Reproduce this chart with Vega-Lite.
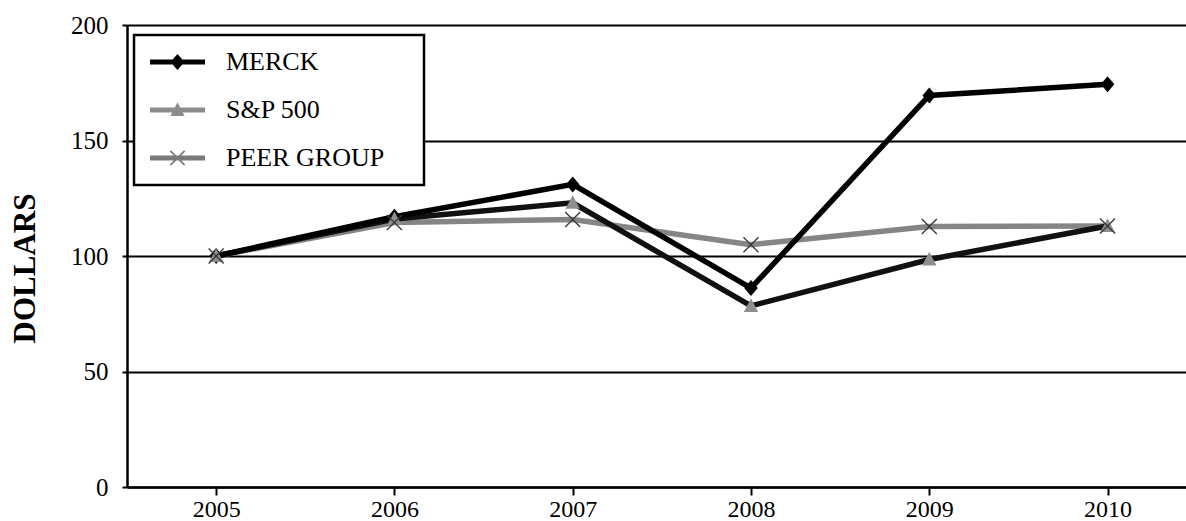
{
  "$schema": "https://vega.github.io/schema/vega-lite/v6.json",
  "width": 1059,
  "height": 462,
  "autosize": {"type": "none"},
  "padding": {"left": 127, "top": 25, "right": 0, "bottom": 34},
  "background": "white",
  "config": {
    "view": {"stroke": null},
    "font": "Liberation Serif",
    "axis": {"labelFont": "Liberation Serif", "labelColor": "black", "domainColor": "black", "tickColor": "black"}
  },
  "data": {
    "values": [
      {"year": 2005, "series": "PEER GROUP", "value": 100},
      {"year": 2006, "series": "PEER GROUP", "value": 114.5},
      {"year": 2007, "series": "PEER GROUP", "value": 115.8},
      {"year": 2008, "series": "PEER GROUP", "value": 104.9},
      {"year": 2009, "series": "PEER GROUP", "value": 112.8},
      {"year": 2010, "series": "PEER GROUP", "value": 113},
      {"year": 2005, "series": "S&P 500", "value": 100},
      {"year": 2006, "series": "S&P 500", "value": 116},
      {"year": 2007, "series": "S&P 500", "value": 123},
      {"year": 2008, "series": "S&P 500", "value": 78.4},
      {"year": 2009, "series": "S&P 500", "value": 98.5},
      {"year": 2010, "series": "S&P 500", "value": 113},
      {"year": 2005, "series": "MERCK", "value": 100},
      {"year": 2006, "series": "MERCK", "value": 117},
      {"year": 2007, "series": "MERCK", "value": 131},
      {"year": 2008, "series": "MERCK", "value": 86.1},
      {"year": 2009, "series": "MERCK", "value": 169.5},
      {"year": 2010, "series": "MERCK", "value": 174.3}
    ]
  },
  "encoding": {
    "x": {
      "field": "year", "type": "quantitative",
      "scale": {"domain": [2004.5, 2010.44], "nice": false, "zero": false},
      "axis": {"values": [2005, 2006, 2007, 2008, 2009, 2010], "format": "d", "title": null, "grid": false, "tickSize": 8, "tickWidth": 2, "domainWidth": 2.5, "labelFontSize": 24, "labelBaseline": "alphabetic", "labelPadding": 21, "labelFlush": false}
    },
    "y": {
      "field": "value", "type": "quantitative",
      "scale": {"domain": [0, 200], "nice": false},
      "axis": {"values": [0, 50, 100, 150, 200], "title": "DOLLARS", "titleFont": "Liberation Serif", "titleFontSize": 31, "titleFontWeight": "bold", "titleColor": "black", "titlePadding": 29, "titleY": 243, "grid": true, "gridColor": "black", "gridWidth": 2, "gridOpacity": 1, "tickSize": 5, "tickWidth": 2, "domainWidth": 2.5, "labelFontSize": 25, "labelPadding": 14}
    }
  },
  "layer": [
    {
      "mark": {"type": "line", "strokeWidth": 5.5, "strokeJoin": "miter"},
      "encoding": {
        "color": {
          "field": "series", "type": "nominal",
          "scale": {"domain": ["MERCK", "S&P 500", "PEER GROUP"], "range": ["#000000", "#111111", "#858585"]},
          "legend": {
            "title": null,
            "orient": "none",
            "legendX": 7,
            "legendY": 10,
            "padding": 14,
            "strokeColor": "black",
            "fillColor": "white",
            "labelFont": "Liberation Serif",
            "labelFontSize": 26,
            "labelColor": "black",
            "labelOffset": 52,
            "labelLimit": 400,
            "labelExpr": "datum.label + '\u00a0\u2800'",
            "symbolSize": 484,
            "rowPadding": 22,
            "encode": {
              "legend": {"update": {"strokeWidth": {"value": 2.5}}},
              "symbols": {
                "update": {
                  "shape": {"signal": "datum.value === 'MERCK' ? 'M-1,-0.23H4V0.23H-1Z M1.5,-0.73L2.14,0L1.5,0.73L0.86,0Z' : datum.value === 'S&P 500' ? 'M-1,-0.23H4V0.23H-1Z M1.5,-0.7L2.14,0.55L0.86,0.55Z' : 'M-1,-0.23H4V0.23H-1Z M0.8,-0.595L0.905,-0.7L1.5,-0.105L2.095,-0.7L2.2,-0.595L1.605,0L2.2,0.595L2.095,0.7L1.5,0.105L0.905,0.7L0.8,0.595L1.395,0Z'"},
                  "fill": {"signal": "datum.value === 'MERCK' ? '#000000' : datum.value === 'S&P 500' ? '#8c8c8c' : '#7a7a7a'"},
                  "stroke": {"value": "transparent"},
                  "strokeWidth": {"value": 0},
                  "opacity": {"value": 1}
                }
              }
            }
          }
        }
      }
    },
    {
      "transform": [{"filter": "datum.series === 'MERCK'"}],
      "mark": {"type": "point", "filled": true, "opacity": 1, "size": 256, "color": "#000000", "shape": "M0,-1L0.85,0L0,1L-0.85,0Z"},
      "encoding": {}
    },
    {
      "transform": [{"filter": "datum.series === 'S&P 500'"}],
      "mark": {"type": "point", "filled": true, "opacity": 1, "size": 256, "color": "#8f8f8f", "shape": "M0,-0.95L0.9,0.75L-0.9,0.75Z"},
      "encoding": {}
    },
    {
      "transform": [{"filter": "datum.series === 'PEER GROUP'"}],
      "mark": {"type": "point", "filled": true, "opacity": 1, "size": 256, "color": "#3a3a3a", "shape": "M-1,-0.88L-0.88,-1L0,-0.12L0.88,-1L1,-0.88L0.12,0L1,0.88L0.88,1L0,0.12L-0.88,1L-1,0.88L-0.12,0Z"},
      "encoding": {}
    }
  ]
}
